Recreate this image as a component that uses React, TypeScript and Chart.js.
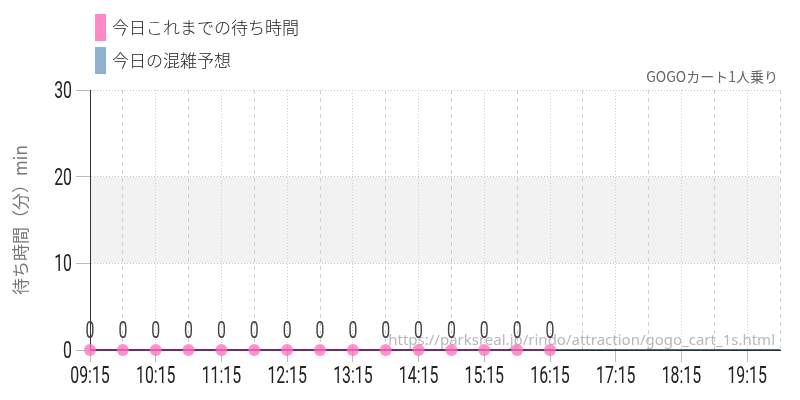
import { useEffect, useRef } from "react";
import { Chart, registerables } from "chart.js";

Chart.register(...registerables);

// 30-minute slots shown on the x axis
const timeLabels = [
  "09:15", "09:45", "10:15", "10:45", "11:15", "11:45", "12:15", "12:45",
  "13:15", "13:45", "14:15", "14:45", "15:15", "15:45", "16:15", "16:45",
  "17:15", "17:45", "18:15", "18:45", "19:15", "19:45",
];

// actual waits so far today (minutes), null = not yet
const actualWait = [0, 0, 0, 0, 0, 0, 0, 0, 0, 0, 0, 0, 0, 0, 0,
  null, null, null, null, null, null, null];

// forecast for the whole day (minutes)
const forecastWait = [0, 0, 0, 0, 0, 0, 0, 0, 0, 0, 0, 0, 0, 0, 0,
  0, 0, 0, 0, 0, 0, 0];

const yTicks = [0, 10, 20, 30];
const band = [10, 20];

const seriesNames = ["今日これまでの待ち時間", "今日の混雑予想"];
const swatches = ["#ff88c8", "#8fb2d0"];
const attractionName = "GOGOカート1人乗り";
const sourceUrl = "https://parksreal.jp/rindo/attraction/gogo_cart_1s.html";
const yTitle = "待ち時間（分）min";

const NUM_FONT = "Roboto, 'DejaVu Sans', sans-serif";
const JP_FONT = "'Noto Sans CJK JP', 'Noto Sans', sans-serif";
const NARROW = 0.66; // no condensed face installed, squeeze Roboto

function narrowText(ctx: CanvasRenderingContext2D, text: string, x: number, y: number, align: CanvasTextAlign) {
  ctx.save();
  ctx.translate(x, y);
  ctx.scale(NARROW, 1);
  ctx.textAlign = align;
  ctx.fillText(text, 0, 0);
  ctx.restore();
}

const decorations = {
  id: "decorations",
  beforeDraw(chart: any) {
    const { ctx, chartArea, scales } = chart;
    const y = scales.y;
    ctx.save();
    ctx.fillStyle = "#f2f2f2";
    const top = y.getPixelForValue(band[1]);
    const bottom = y.getPixelForValue(band[0]);
    ctx.fillRect(chartArea.left, top, chartArea.right - chartArea.left, bottom - top);
    ctx.restore();
  },
  beforeDatasetsDraw(chart: any) {
    const { ctx, chartArea } = chart;
    ctx.save();
    ctx.font = "15px 'Noto Sans', sans-serif";
    ctx.fillStyle = "#b8b8b8";
    ctx.textAlign = "right";
    ctx.textBaseline = "alphabetic";
    ctx.fillText(sourceUrl, chartArea.right - 5, chartArea.bottom - 5);
    ctx.restore();
  },
  afterDatasetsDraw(chart: any) {
    const { ctx } = chart;
    const meta = chart.getDatasetMeta(0);
    ctx.save();
    ctx.font = `24px ${NUM_FONT}`;
    ctx.fillStyle = "#444";
    ctx.textBaseline = "alphabetic";
    meta.data.forEach((pt: any, i: number) => {
      const v = actualWait[i];
      if (v === null || v === undefined) return;
      narrowText(ctx, String(v), pt.x, pt.y - 12, "center");
    });
    ctx.restore();
  },
  afterDraw(chart: any) {
    const { ctx, chartArea, scales } = chart;
    ctx.save();
    // tick labels in a narrow face
    ctx.font = `24px ${NUM_FONT}`;
    ctx.fillStyle = "#222";
    ctx.textBaseline = "alphabetic";
    const xs = scales.x;
    xs.ticks.forEach((_t: any, i: number) => {
      if (i % 2 !== 0) return;
      narrowText(ctx, timeLabels[i], xs.getPixelForTick(i), xs.top + 33, "center");
    });
    const ys = scales.y;
    ys.ticks.forEach((t: any, i: number) => {
      narrowText(ctx, String(t.value), ys.right - 18, ys.getPixelForTick(i) + 8, "right");
    });
    // legend
    ctx.font = `300 17px ${JP_FONT}`;
    ctx.textBaseline = "middle";
    ctx.textAlign = "left";
    seriesNames.forEach((name, i) => {
      const top = 14 + i * 33;
      ctx.fillStyle = swatches[i];
      ctx.fillRect(95, top, 11, 27);
      ctx.fillStyle = "#222";
      ctx.fillText(name, 112, top + 14);
    });
    // attraction name
    ctx.font = `14px ${JP_FONT}`;
    ctx.fillStyle = "#666";
    ctx.textAlign = "right";
    ctx.fillText(attractionName, chartArea.right - 2, 77);
    ctx.restore();
  },
};

export default function App() {
  const ref = useRef<HTMLCanvasElement | null>(null);

  useEffect(() => {
    document.body.style.margin = "0";
    if (!ref.current) return;
    const ctx = ref.current.getContext("2d");
    if (!ctx) return;

    const chart = new Chart(ctx, {
      type: "line",
      data: {
        labels: timeLabels,
        datasets: [
          {
            label: seriesNames[0],
            data: actualWait,
            borderColor: "#6e2d68",
            borderWidth: 2,
            pointRadius: 6,
            pointBackgroundColor: "rgba(255,110,190,0.75)",
            pointBorderColor: "rgba(255,110,190,0.75)",
            pointBorderWidth: 0,
            tension: 0,
            clip: false as any,
          },
          {
            label: seriesNames[1],
            data: forecastWait,
            borderColor: "#1e3447",
            borderWidth: 1.5,
            pointRadius: 0,
            tension: 0,
            clip: false as any,
          },
        ],
      },
      options: {
        responsive: false,
        animation: false,
        layout: { padding: { top: 90, right: 20, left: 0, bottom: 0 } },
        plugins: {
          legend: { display: false },
          tooltip: { enabled: false },
        },
        scales: {
          x: {
            offset: false,
            afterFit: (s: any) => { s.height = 50; },
            grid: {
              color: "#d0d0d0",
              lineWidth: 1,
              tickLength: 12,
              tickColor: (c: any) => (c.index % 2 === 0 ? "#bbb" : "rgba(0,0,0,0)"),
            },
            border: {
              color: "#333",
              width: 1,
              dash: (c: any) => (c.index === undefined ? [] : c.index % 2 === 0 ? [1, 2] : [4, 4]),
            },
            ticks: {
              autoSkip: false,
              maxRotation: 0,
              minRotation: 0,
              padding: 2,
              color: "rgba(0,0,0,0)",
              font: { family: NUM_FONT, size: 14 },
              callback: (_v: any, i: number) => (i % 2 === 0 ? timeLabels[i] : ""),
            },
          },
          y: {
            min: yTicks[0],
            max: yTicks[yTicks.length - 1],
            afterFit: (s: any) => { s.width = 90; },
            afterBuildTicks: (s: any) => { s.ticks = yTicks.map((v) => ({ value: v })); },
            grid: {
              color: "#c8c8c8",
              tickLength: 14,
              tickColor: "#bbb",
            },
            border: {
              color: "#333",
              width: 1,
              dash: [1, 2],
            },
            title: {
              display: true,
              text: yTitle,
              color: "#777",
              font: { family: JP_FONT, size: 17 },
              padding: { top: 10, bottom: 0 },
            },
            ticks: {
              padding: 3,
              color: "rgba(0,0,0,0)",
              font: { family: NUM_FONT, size: 14 },
            },
          },
        },
      },
      plugins: [decorations],
    });

    return () => chart.destroy();
  }, []);

  return (
    <div style={{ width: 800, height: 400 }}>
      <canvas ref={ref} width={800} height={400} />
    </div>
  );
}
